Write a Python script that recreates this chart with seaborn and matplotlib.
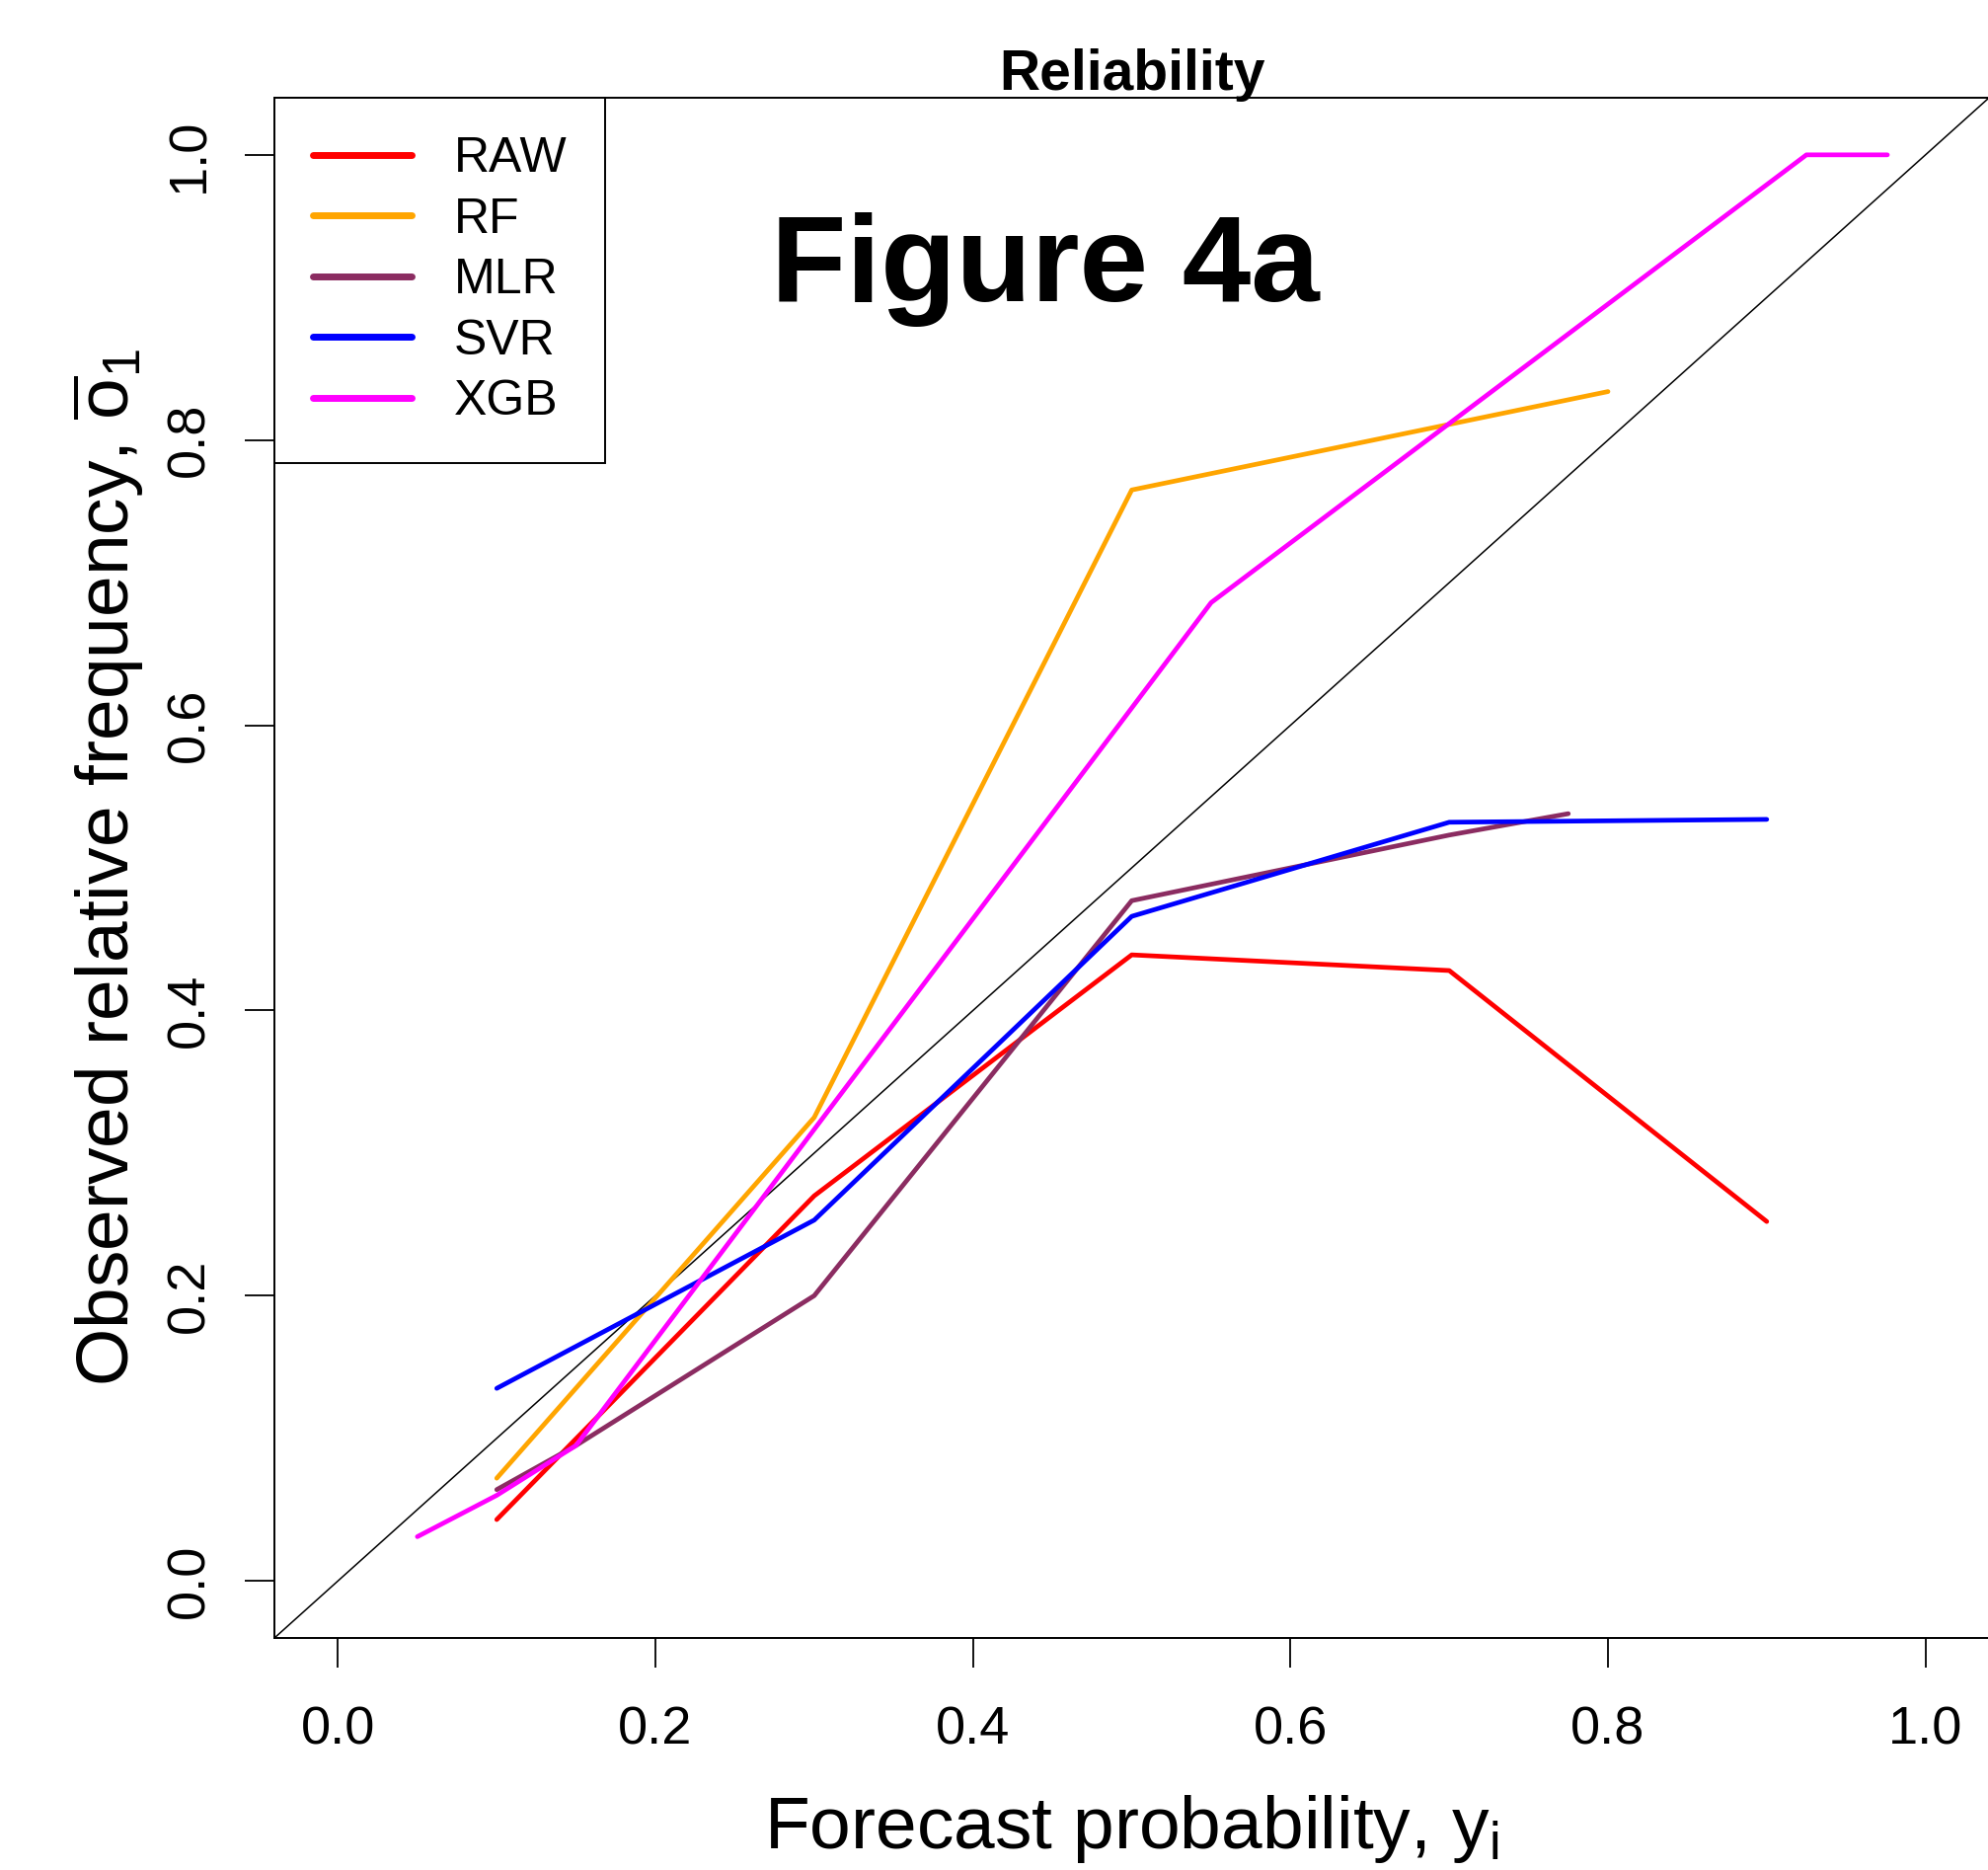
import matplotlib
matplotlib.use("Agg")
import matplotlib.pyplot as plt
import numpy as np
import pandas as pd
import seaborn as sns

# Reliability curves: forecast probability bins vs observed relative frequency
models = ["RAW", "RF", "MLR", "SVR", "XGB"]
colors = ["#FF0000", "#FFA500", "#8B2C61", "#0000FF", "#FF00FF"]

raw_x = [0.10, 0.30, 0.50, 0.70, 0.90]
raw_y = [0.043, 0.270, 0.439, 0.428, 0.252]

rf_x = [0.10, 0.30, 0.50, 0.80]
rf_y = [0.072, 0.325, 0.765, 0.834]

mlr_x = [0.10, 0.15, 0.30, 0.50, 0.70, 0.775]
mlr_y = [0.064, 0.095, 0.200, 0.477, 0.523, 0.538]

svr_x = [0.10, 0.30, 0.50, 0.70, 0.90]
svr_y = [0.135, 0.253, 0.466, 0.532, 0.534]

xgb_x = [0.05, 0.10, 0.15, 0.55, 0.925, 0.976]
xgb_y = [0.031, 0.060, 0.095, 0.686, 1.000, 1.000]

ticks = [0.0, 0.2, 0.4, 0.6, 0.8, 1.0]
tick_labels = ["0.0", "0.2", "0.4", "0.6", "0.8", "1.0"]

frames = []
for name, xs, ys in zip(models,
                        [raw_x, rf_x, mlr_x, svr_x, xgb_x],
                        [raw_y, rf_y, mlr_y, svr_y, xgb_y]):
    frames.append(pd.DataFrame({"forecast": xs, "observed": ys, "model": name}))
df = pd.concat(frames, ignore_index=True)

sns.set_style("white")
plt.rcParams["font.family"] = ["Liberation Sans", "DejaVu Sans"]
plt.rcParams["text.color"] = "black"
plt.rcParams["axes.labelcolor"] = "black"
plt.rcParams["mathtext.fontset"] = "custom"
plt.rcParams["mathtext.rm"] = "Liberation Sans"
plt.rcParams["mathtext.it"] = "Liberation Sans:italic"
plt.rcParams["mathtext.bf"] = "Liberation Sans:bold"

fig = plt.figure(figsize=(20.15, 18.94), dpi=100)
fig.patch.set_facecolor("white")
ax = fig.add_axes([0.138, 0.1241, 0.862, 0.8236])

# perfect-reliability diagonal
ax.axline((0, 0), slope=1, color="black", linewidth=1.1, zorder=1)

sns.lineplot(data=df, x="forecast", y="observed", hue="model",
             hue_order=models, palette=dict(zip(models, colors)),
             estimator=None, sort=True, linewidth=3.4, ax=ax, zorder=3)

ax.set_xlim(-0.04, 1.04)
ax.set_ylim(-0.04, 1.04)
ax.set_xticks(ticks)
ax.set_xticklabels(tick_labels)
ax.set_yticks(ticks)
ax.set_yticklabels(tick_labels, rotation=90, va="center")

ax.tick_params(axis="both", which="major", bottom=True, left=True,
               direction="out", length=21.6, width=1.3,
               color="black", labelsize=39, labelcolor="black")
ax.tick_params(axis="x", pad=28)
ax.tick_params(axis="y", pad=22)

for side in ["left", "right", "top", "bottom"]:
    ax.spines[side].set_visible(True)
    ax.spines[side].set_color("black")
    ax.spines[side].set_linewidth(1.4)

ax.set_title("Reliability", fontsize=41, fontweight="bold", pad=6, color="black")

ax.set_xlabel(r"Forecast probability, $\mathrm{y}_{\mathrm{i}}$", fontsize=54)
ax.xaxis.set_label_coords(0.5, -0.1365)
ax.xaxis.label.set_va("baseline")

ax.set_ylabel(r"Observed relative frequency, $\overline{\mathrm{o}}_{1}$", fontsize=54)
ax.yaxis.set_label_coords(-0.0846, 0.5)
ax.yaxis.label.set_va("baseline")

ax.text(0.273, 0.8975, "Figure 4a", fontsize=90, fontweight="bold",
        ha="left", va="baseline", color="black", zorder=5)

handles, labels = ax.get_legend_handles_labels()
leg = ax.legend(handles, labels, loc="upper left", bbox_to_anchor=(0, 1),
                borderaxespad=0, fontsize=36, frameon=True, fancybox=False,
                edgecolor="black", framealpha=1, handlelength=2.0,
                handletextpad=0.85, borderpad=0.78, labelspacing=0.31)
leg.get_frame().set_linewidth(1.4)
for line in leg.get_lines():
    line.set_linewidth(5.0)
for txt in leg.get_texts():
    txt.set_color("black")

fig.savefig("out.png", dpi=100, facecolor="white")
